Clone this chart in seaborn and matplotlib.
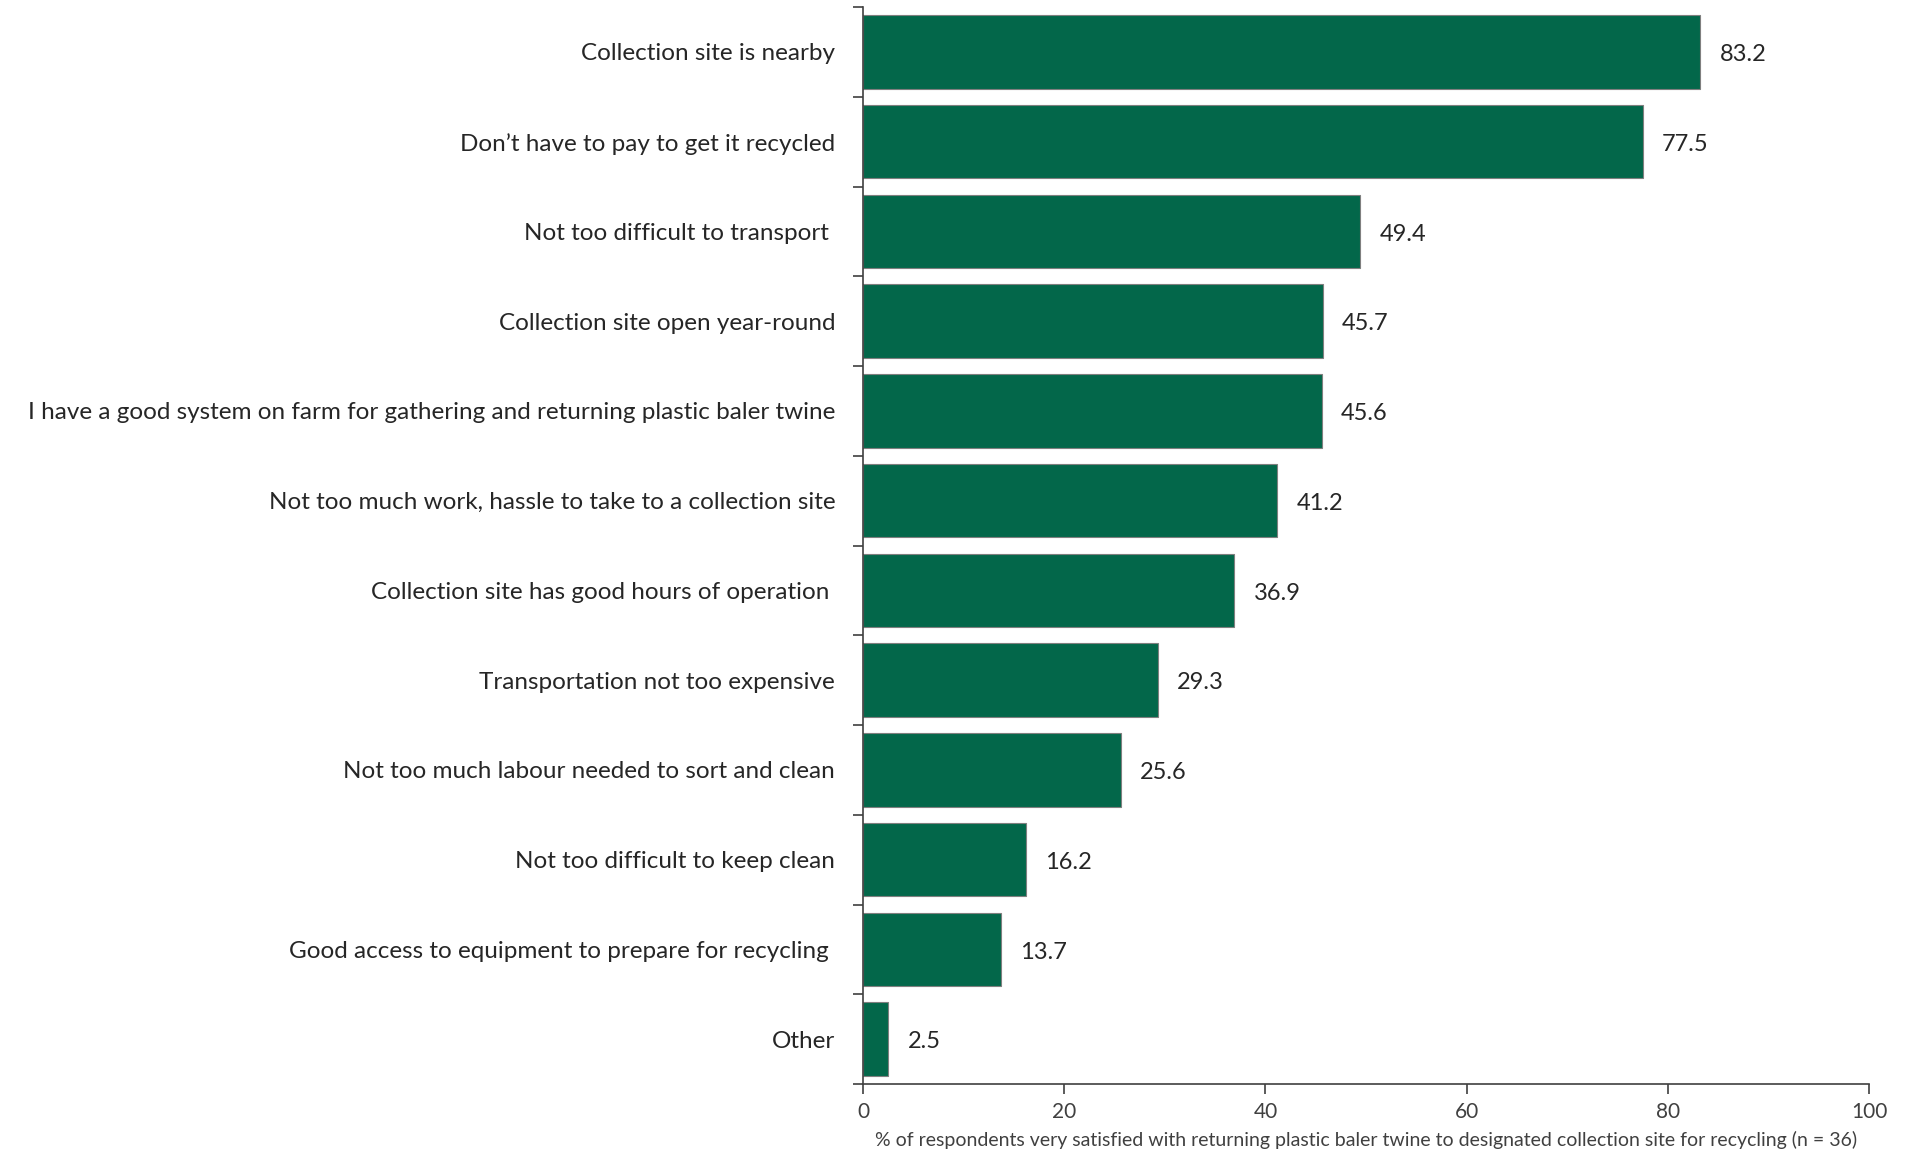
import matplotlib
matplotlib.use("Agg")
import matplotlib.pyplot as plt
import seaborn as sns
import pandas as pd
import numpy as np

categories = [
    "Collection site is nearby",
    "Don\u2019t have to pay to get it recycled",
    "Not too difficult to transport ",
    "Collection site open year-round",
    "I have a good system on farm for gathering and returning plastic baler twine",
    "Not too much work, hassle to take to a collection site",
    "Collection site has good hours of operation ",
    "Transportation not too expensive",
    "Not too much labour needed to sort and clean",
    "Not too difficult to keep clean",
    "Good access to equipment to prepare for recycling ",
    "Other",
]
values = [83.2, 77.5, 49.4, 45.7, 45.6, 41.2, 36.9, 29.3, 25.6, 16.2, 13.7, 2.5]
x_ticks = [0, 20, 40, 60, 80, 100]
x_label = "% of respondents very satisfied with returning plastic baler twine to designated collection site for recycling (n = 36)"

df = pd.DataFrame({"reason": categories, "pct": values})

sns.set_theme(style="white")
plt.rcParams["font.family"] = ["Lato", "DejaVu Sans"]

fig = plt.figure(figsize=(19.08, 11.53), dpi=100)
ax = fig.add_axes([0.4523, 0.0598, 0.5273, 0.9341])

bar_color = "#03674A"
sns.barplot(data=df, x="pct", y="reason", orient="h", color=bar_color,
            saturation=1, width=0.82, edgecolor="#7f7f7f", linewidth=0.8, ax=ax)

ax.set_xlim(0, 100)
ax.set_ylim(len(categories) - 0.5, -0.5)
ax.set_xticks(x_ticks)
ax.set_xticklabels([str(t) for t in x_ticks], fontsize=15, color="#404040")
ax.set_xlabel(x_label, fontsize=14, color="#404040", labelpad=6)
ax.set_ylabel("")
ax.tick_params(axis="y", which="major", length=0, labelsize=17.5, labelcolor="#262626", pad=20)
ax.tick_params(axis="x", which="major", bottom=True, length=7, width=1.2,
               color="#404040", direction="out", pad=6)

# category boundary ticks on the value axis line
ax.set_yticks(np.arange(-0.5, len(categories), 1.0), minor=True)
ax.tick_params(axis="y", which="minor", length=7, width=1.2, color="#404040", direction="out", left=True)

for side in ["top", "right"]:
    ax.spines[side].set_visible(False)
for side in ["left", "bottom"]:
    ax.spines[side].set_color("#404040")
    ax.spines[side].set_linewidth(1.2)

for container in ax.containers:
    labels = ax.bar_label(container, labels=[f"{v:.1f}" for v in values], padding=14,
                          fontsize=17, color="#262626")
    for lab in labels:
        lab.xyann = (14, -2)

fig.savefig("out.png", dpi=100)
